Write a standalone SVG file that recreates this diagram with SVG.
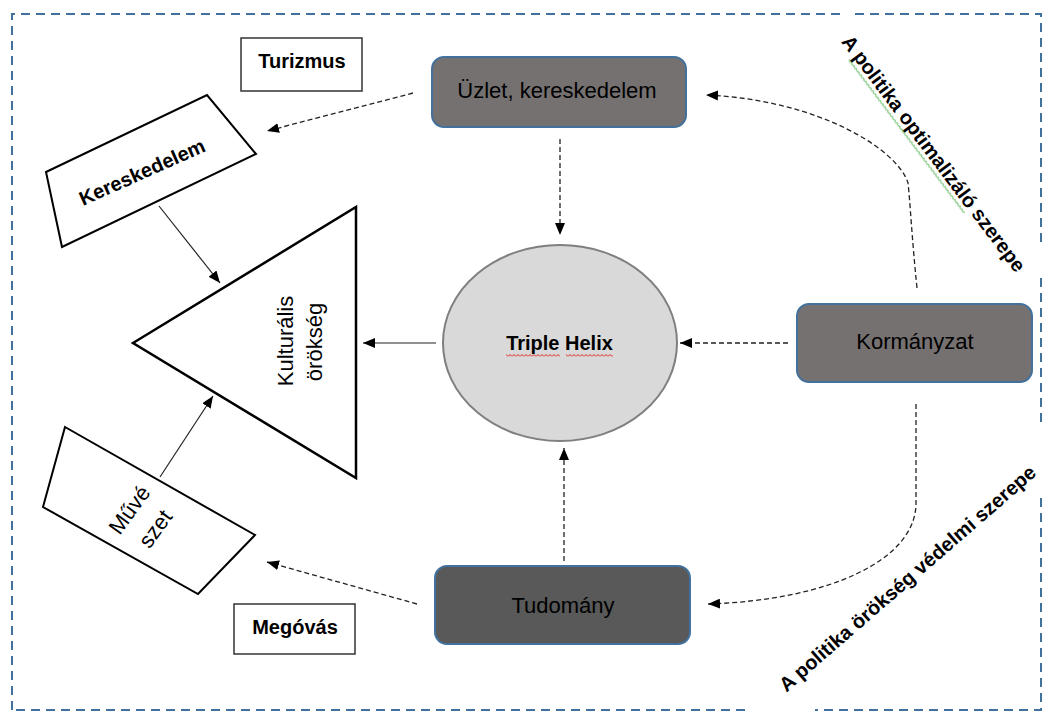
<svg xmlns="http://www.w3.org/2000/svg" width="1044" height="712" viewBox="0 0 1044 712">
  <style>
    .lbl { font-family: "Liberation Sans", Arial, sans-serif; fill: #000; }
    .b { font-weight: bold; font-size: 20px; }
    .r { font-size: 22px; }
    .dash { fill: none; stroke: #222; stroke-width: 1.3; stroke-dasharray: 5,3; }
    .solid { fill: none; stroke: #222; stroke-width: 1.2; }
    .outline { fill: #fff; stroke: #000; stroke-width: 2; }
    .box { stroke: #41719c; stroke-width: 2; }
    .frame { fill: none; stroke: #41719c; stroke-width: 2; stroke-dasharray: 9,6; }
  </style>
  <defs>
    <marker id="ah" viewBox="0 0 12 10" refX="12" refY="5" markerWidth="12" markerHeight="10" markerUnits="userSpaceOnUse" orient="auto">
      <path d="M0,0 L12,5 L0,10 z" fill="#000"/>
    </marker>
    <pattern id="wavyR" width="4" height="3" patternUnits="userSpaceOnUse">
      <path d="M0,2.5 L2,0.5 L4,2.5" fill="none" stroke="#e0201c" stroke-width="1"/>
    </pattern>
    <pattern id="wavyG" width="4" height="3" patternUnits="userSpaceOnUse">
      <path d="M0,2.5 L2,0.5 L4,2.5" fill="none" stroke="#2ca02c" stroke-width="1"/>
    </pattern>
  </defs>
  <rect width="1044" height="712" fill="#fff"/>

  <g id="frame">
    <path class="frame" d="M12,710 L12,14 L840,14 M855,14 L1041,14 L1041,245 M1041,278 L1041,425 M1041,498 L1041,710 L815,710 M745,710 L12,710"/>
  </g>

  <g id="connectors">
    <path class="dash" d="M413,93 L267,131" marker-end="url(#ah)"/>
    <path class="dash" d="M560,139 L560,235" marker-end="url(#ah)"/>
    <path class="solid" d="M159,206 L220,283" marker-end="url(#ah)"/>
    <path class="solid" d="M160,477 L213,396" marker-end="url(#ah)"/>
    <path class="solid" d="M436,343 L363,343" marker-end="url(#ah)"/>
    <path class="dash" d="M788,343 L680,343" marker-end="url(#ah)"/>
    <path class="dash" d="M564,561 L564,448" marker-end="url(#ah)"/>
    <path class="dash" d="M417,604 L267,562" marker-end="url(#ah)"/>
    <path class="dash" d="M917,288 C912,240 910,200 908,183 C898,150 820,100 706,95" marker-end="url(#ah)"/>
    <path class="dash" d="M916,404 L916,505 C914,560 830,600 708,604" marker-end="url(#ah)"/>
  </g>

  <g id="turizmus">
    <rect x="241" y="38" width="121" height="53" fill="#fff" stroke="#333" stroke-width="1.5"/>
    <text class="lbl b" x="302" y="68" text-anchor="middle">Turizmus</text>
  </g>

  <g id="kereskedelem">
    <polygon class="outline" points="46,172 207,95 256,154 62,247"/>
    <text class="lbl b" transform="translate(142,172) rotate(-24)" x="0" y="7" text-anchor="middle">Kereskedelem</text>
  </g>

  <g id="kulturalis-orokseg">
    <polygon fill="#fff" stroke="#000" stroke-width="2.5" points="133,343 356,207 356,478"/>
    <text class="lbl r" transform="translate(293,341) rotate(-90)" text-anchor="middle">Kulturális</text>
    <text class="lbl r" transform="translate(322,342) rotate(-90)" text-anchor="middle">örökség</text>
  </g>

  <g id="muveszet">
    <polygon class="outline" points="65,427 255,535 198,594 43,507"/>
    <g transform="translate(142,519) rotate(-54)">
      <text class="lbl r" x="0" y="-8" text-anchor="middle">Művé</text>
      <text class="lbl r" x="0" y="24" text-anchor="middle">szet</text>
    </g>
  </g>

  <g id="megovas">
    <rect x="234" y="604" width="121" height="50" fill="#fff" stroke="#333" stroke-width="1.5"/>
    <text class="lbl b" x="295" y="634" text-anchor="middle">Megóvás</text>
  </g>

  <g id="uzlet">
    <rect class="box" x="432" y="57" width="254" height="70" rx="12" fill="#767171"/>
    <text class="lbl r" x="557" y="98" text-anchor="middle">Üzlet, kereskedelem</text>
  </g>

  <g id="triple-helix">
    <ellipse cx="560" cy="343" rx="117" ry="98" fill="#d9d9d9" stroke="#7f7f7f" stroke-width="2"/>
    <text class="lbl b" x="559.5" y="350" text-anchor="middle">Triple Helix</text>
    <rect x="506" y="354" width="54" height="3" fill="url(#wavyR)"/>
    <rect x="566" y="354" width="47" height="3" fill="url(#wavyR)"/>
  </g>

  <g id="kormanyzat">
    <rect class="box" x="797" y="304" width="235" height="78" rx="12" fill="#767171"/>
    <text class="lbl r" x="915" y="349" text-anchor="middle">Kormányzat</text>
  </g>

  <g id="tudomany">
    <rect class="box" x="435" y="566" width="255" height="78" rx="12" fill="#595959"/>
    <text class="lbl r" x="563" y="613" text-anchor="middle">Tudomány</text>
  </g>

  <g id="label-optimalizalo" transform="translate(933,154) rotate(53)">
    <text class="lbl b" x="0" y="6" text-anchor="middle">A politika optimalizáló szerepe</text>
    <rect x="-126" y="9" width="192" height="3" fill="url(#wavyG)"/>
  </g>

  <g id="label-vedelmi" transform="translate(908,579) rotate(-41)">
    <text class="lbl b" x="0" y="6" text-anchor="middle">A politika örökség védelmi szerepe</text>
  </g>
</svg>
